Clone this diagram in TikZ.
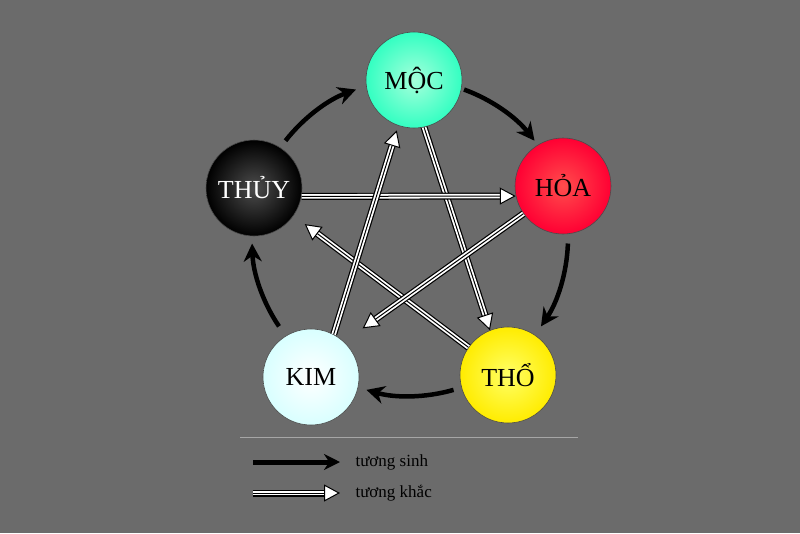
\documentclass[tikz,border=0pt]{standalone}
\usepackage{fontspec}
\setmainfont{Liberation Serif}
\usetikzlibrary{arrows.meta,calc}
\newcommand{\khac}[3]{%
  \draw[line width=7pt,black,shorten >=#3+14pt] #1 -- #2;
  \draw[line width=4.6pt,white,shorten >=#3+13pt] #1 -- #2;
  \draw[line width=1pt,black,shorten >=#3,-{Triangle[length=16pt,width=17pt,fill=white]}] #1 -- #2;}
\begin{document}
\begin{tikzpicture}[x=1pt,y=-1pt,
  el/.style={circle,minimum size=96pt,inner sep=0pt,draw=black!70,line width=0.6pt,font=\fontsize{26}{28}\selectfont},
  sinh/.style={line width=4.5pt,black,-{Stealth[length=18pt,width=18pt]}},
  legtxt/.style={font=\fontsize{17}{19}\selectfont,anchor=west,text=black}]
\fill[black!58] (0,0) rectangle (800,533);
\useasboundingbox (0,0) rectangle (800,533);
\coordinate (c) at (410,238);
\node[el,inner color=green!40!cyan!35!white,outer color=cyan!70!green!80!white] (moc) at (414,80) {MỘC};
\node[el,inner color=red!60!pink,outer color=red!80!magenta] (hoa) at (563,186) {HỎA};
\node[el,inner color=yellow!60,outer color=yellow!85!orange] (tho) at (508,375) {THỔ};
\node[el,inner color=white,outer color=cyan!15!white] (kim) at (311,377) {KIM};
\node[el,inner color=black!70,outer color=black,text=white] (thuy) at (254,188) {THỦY};
% tuong sinh arcs
\foreach \a/\b in {70/38, -2/-34, -74/-106, -146/-178, 142/110}
  \draw[sinh] ($(c)+(\a:158 and -158)$) arc[start angle=\a,end angle=\b,x radius=158,y radius=-158];
% tuong khac
\khac{(moc.-78)}{(tho.112)}{0pt}
\khac{(tho.145)}{(thuy.-35)}{14pt}
\khac{(thuy.-10)}{(hoa.192)}{0pt}
\khac{(hoa.215)}{(kim.47)}{23pt}
\khac{(kim.62)}{(moc.-109)}{5pt}
% legend
\draw[black!35,line width=1pt] (240,437) -- (578,437);
\coordinate (l1a) at (253,462); \coordinate (l1b) at (340,462);
\coordinate (l2a) at (253,493); \coordinate (l2b) at (340,493);
\draw[line width=5pt,black,-{Stealth[length=16pt,width=16pt]}] (l1a) -- (l1b);
\khac{(l2a)}{(l2b)}{0pt}
\node[legtxt] (t1) at (352,462) {tương sinh};
\node[legtxt] (t2) at (352,493) {tương khắc};
\end{tikzpicture}
\end{document}
